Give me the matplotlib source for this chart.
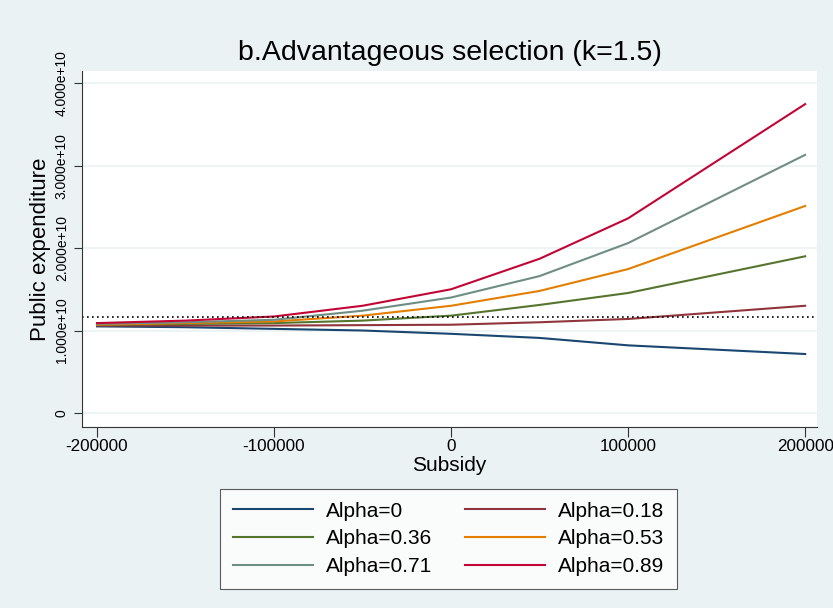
import matplotlib
matplotlib.use("Agg")
import matplotlib.pyplot as plt
import matplotlib.ticker as mticker

plt.rcParams['font.family'] = ['Liberation Sans', 'DejaVu Sans']

# subsidy grid and public expenditure per alpha
subsidy = [-200000, -150000, -100000, -50000, 0, 50000, 100000, 200000]
labels = ['Alpha=0', 'Alpha=0.18', 'Alpha=0.36', 'Alpha=0.53', 'Alpha=0.71', 'Alpha=0.89']
a000 = [1.05e10, 1.04e10, 1.02e10, 1.00e10, 0.96e10, 0.91e10, 0.82e10, 0.715e10]
a018 = [1.06e10, 1.06e10, 1.06e10, 1.065e10, 1.07e10, 1.10e10, 1.14e10, 1.30e10]
a036 = [1.07e10, 1.08e10, 1.09e10, 1.12e10, 1.18e10, 1.31e10, 1.455e10, 1.90e10]
a053 = [1.07e10, 1.09e10, 1.11e10, 1.18e10, 1.30e10, 1.48e10, 1.745e10, 2.51e10]
a071 = [1.08e10, 1.10e10, 1.13e10, 1.24e10, 1.40e10, 1.66e10, 2.06e10, 3.13e10]
a089 = [1.09e10, 1.12e10, 1.17e10, 1.30e10, 1.50e10, 1.87e10, 2.36e10, 3.745e10]
baseline = 1.165e10
yticks = [0, 1e10, 2e10, 3e10, 4e10]
xticks = [-200000, -100000, 0, 100000, 200000]

colors = ['#1a476f', '#90353b', '#55752f', '#e37e00', '#6e8e84', '#c10534']
bg = '#eaf2f3'

fig = plt.figure(figsize=(8.33, 6.08), dpi=100, facecolor=bg)
ax = fig.add_axes([0.0984, 0.2977, 0.8826, 0.5853])
ax.set_facecolor('white')

series = [a000, a018, a036, a053, a071, a089]
lines = []
for ys, lab, c in zip(series, labels, colors):
    ln, = ax.plot(subsidy, ys, color=c, lw=1.5, label=lab)
    lines.append(ln)
ax.axhline(baseline, color='black', lw=1.2, ls=(0, (1, 2)))

ax.set_xlim(-208500, 206800)
ax.set_ylim(-0.17e10, 4.145e10)
ax.set_yticks(yticks)
ax.set_xticks(xticks)
ax.yaxis.set_major_formatter(mticker.FuncFormatter(lambda v, p: '0' if v == 0 else '%.3fe+10' % (v / 1e10)))
ax.xaxis.set_major_formatter(mticker.FuncFormatter(lambda v, p: '%d' % v))
ax.grid(axis='y', color=bg, lw=1.2)
ax.set_axisbelow(True)
for s in ['top', 'right']:
    ax.spines[s].set_visible(False)
for s in ['left', 'bottom']:
    ax.spines[s].set_color('#333333')
    ax.spines[s].set_linewidth(0.8)
ax.tick_params(axis='y', labelsize=10, labelrotation=90, length=6, width=0.8, color='#333333')
for t in ax.get_yticklabels():
    t.set_verticalalignment('center')
ax.tick_params(axis='x', labelsize=12.3, length=7, width=0.8, color='#333333', pad=2)

ax.set_title('b.Advantageous selection (k=1.5)', fontsize=20.5, pad=8)
ax.set_xlabel('Subsidy', fontsize=15, labelpad=1)
ax.set_ylabel('Public expenditure', fontsize=16, labelpad=3)

# legend fills column by column: reorder handles so rows read 0/0.18, 0.36/0.53, 0.71/0.89
order = [0, 2, 4, 1, 3, 5]
leg = fig.legend([lines[i] for i in order], [labels[i] for i in order],
                 loc='center', bbox_to_anchor=(0.5384, 0.1135), ncol=2, fontsize=15,
                 frameon=True, fancybox=False, edgecolor='#333333', handlelength=3.85,
                 columnspacing=1.6, labelspacing=0.42, borderpad=0.6, handletextpad=0.6)
leg.get_frame().set_linewidth(0.8)

fig.savefig('out.png', dpi=100, facecolor=bg)
